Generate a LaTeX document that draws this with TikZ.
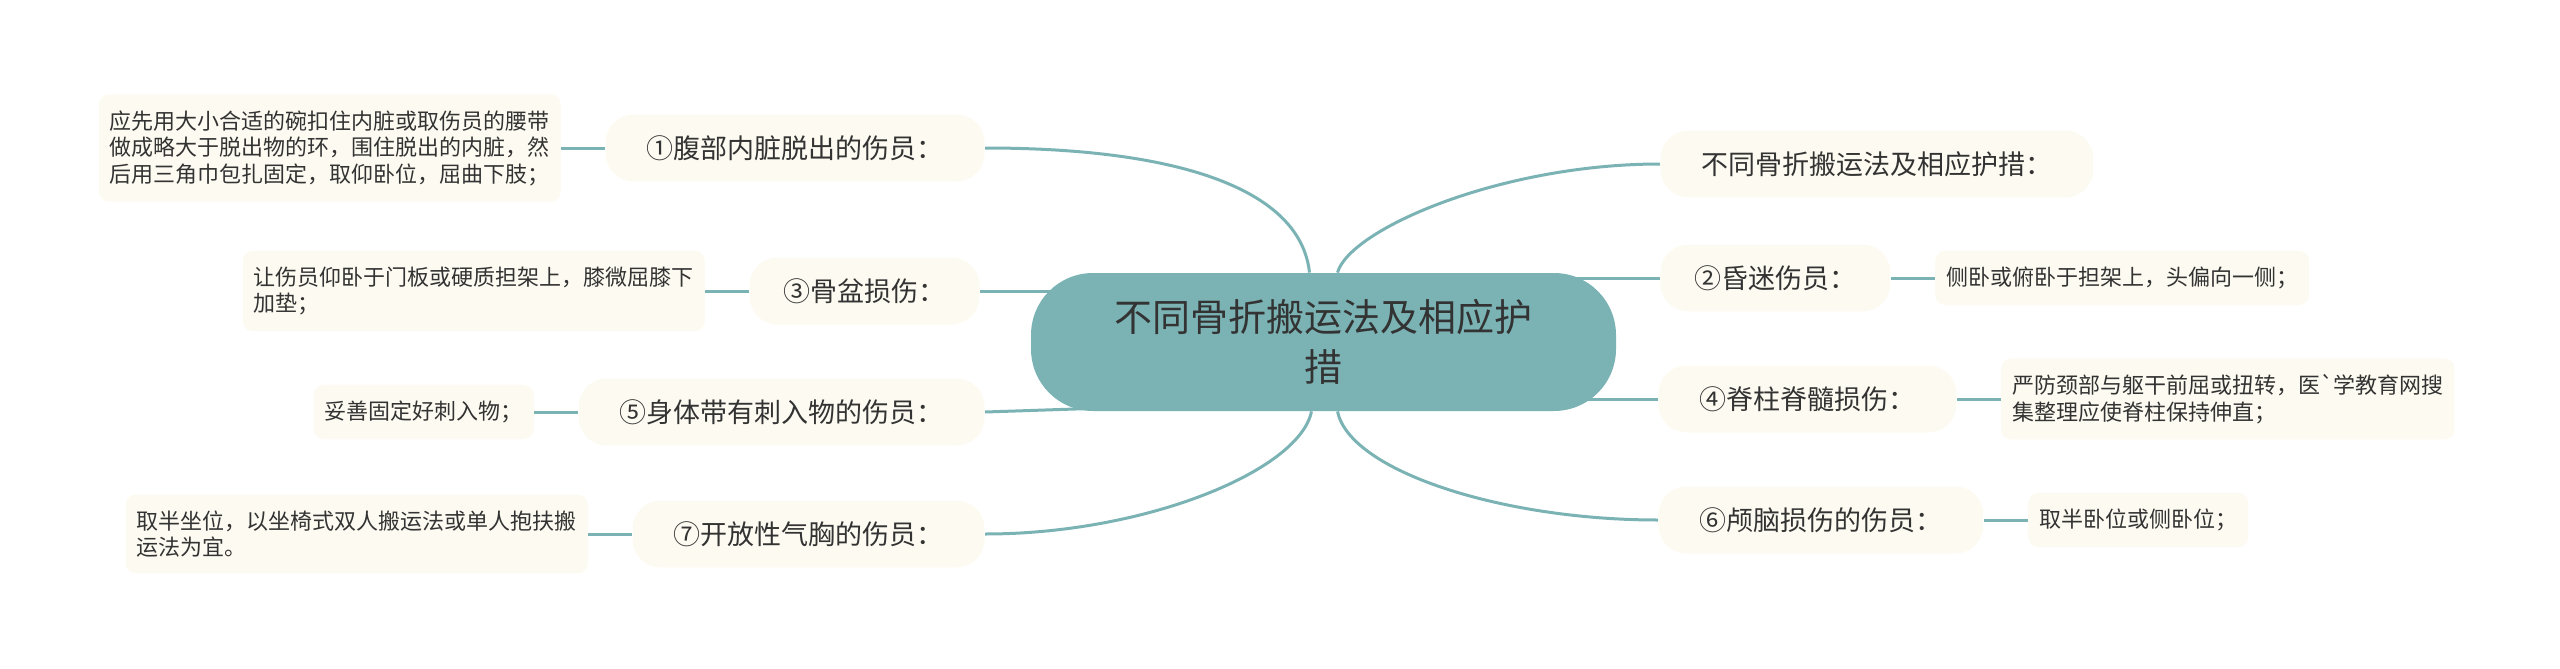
\documentclass[tikz,border=0pt]{standalone}
\usepackage{fontspec}
\newfontfamily\cjk{Noto Sans CJK SC}
\usepackage{xcolor}
\definecolor{tealline}{HTML}{7BB3B5}
\definecolor{cream}{HTML}{FDFBF1}
\definecolor{ink}{HTML}{333333}
\usetikzlibrary{positioning,backgrounds}

\begin{document}
\begin{tikzpicture}[x=0.5pt, y=-0.5pt, node distance=22pt,
	root/.style={fill=tealline, rounded corners=31pt, minimum width=292.5pt, minimum height=69pt, inner sep=0pt, align=center, text=ink, font=\cjk\fontsize{19}{25}\selectfont},
	branch/.style={fill=cream, rounded corners=14pt, minimum height=33.5pt, inner xsep=20.5pt, inner ysep=0pt, text=ink, font=\cjk\fontsize{13.5}{16}\selectfont},
	leaf/.style={fill=cream, rounded corners=5pt, minimum height=25pt, inner xsep=5.5pt, inner ysep=8pt, align=left, text=ink, font=\cjk\fontsize{11}{13.25}\selectfont},
	link/.style={draw=tealline, line width=1.5pt}]
				\useasboundingbox (0,0) rectangle (2560,669);

				\node[root]                 (ROOT)   at (1323.5,342) {不同骨折搬运法及相应护\\措};

				\node[branch, anchor=east]  (ABD)    at (985,148)  {①腹部内脏脱出的伤员：};
				\node[branch, anchor=east, inner xsep=17pt]  (PELVIS) at (980,291)  {③骨盆损伤：};
				\node[branch, anchor=east]  (STAB)   at (985,412)  {⑤身体带有刺入物的伤员：};
				\node[branch, anchor=east]  (CHEST)  at (985,534)  {⑦开放性气胸的伤员：};
				\node[branch, anchor=west]  (TITLE)  at (1660,164) {不同骨折搬运法及相应护措：};
				\node[branch, anchor=west, inner xsep=17pt]  (COMA)   at (1660,278) {②昏迷伤员：};
				\node[branch, anchor=west]  (SPINE)  at (1658,399) {④脊柱脊髓损伤：};
				\node[branch, anchor=west]  (HEAD)   at (1658,520) {⑥颅脑损伤的伤员：};

				\node[leaf] (ABDTIP)    [left=of ABD]    {应先用大小合适的碗扣住内脏或取伤员的腰带\\做成略大于脱出物的环，围住脱出的内脏，然\\后用三角巾包扎固定，取仰卧位，屈曲下肢；};
				\node[leaf] (PELVISTIP) [left=of PELVIS] {让伤员仰卧于门板或硬质担架上，膝微屈膝下\\加垫；};
				\node[leaf] (STABTIP)   [left=of STAB]   {妥善固定好刺入物；};
				\node[leaf] (CHESTTIP)  [left=of CHEST]  {取半坐位，以坐椅式双人搬运法或单人抱扶搬\\运法为宜。};
				\node[leaf] (COMATIP)   [right=of COMA]  {侧卧或俯卧于担架上，头偏向一侧；};
				\node[leaf] (SPINETIP)  [right=of SPINE] {严防颈部与躯干前屈或扭转，医`学教育网搜\\集整理应使脊柱保持伸直；};
				\node[leaf] (HEADTIP)   [right=of HEAD]  {取半卧位或侧卧位；};

				\begin{scope}[on background layer]
					% branches off the root
					\draw[link] ([xshift=-7pt]ROOT.north) .. controls +(-9,-83) and +(195,0) .. (ABD.east);
					\draw[link] ([xshift=7pt]ROOT.north) .. controls +(12,-43) and +(-160,0) .. (TITLE.west);
					\draw[link] ([xshift=-6pt]ROOT.south) .. controls +(-12,59) and +(161,0) .. (CHEST.east);
					\draw[link] ([xshift=7pt]ROOT.south) .. controls +(12,59) and +(-158,0) .. (HEAD.west);
					\draw[link] (PELVIS.east) -- (PELVIS.east -| ROOT.center);
					\draw[link] (STAB.east) -- ([xshift=-115pt,yshift=1.5pt]ROOT.south);
					\draw[link] (COMA.west) -- (COMA.west -| ROOT.center);
					\draw[link] (SPINE.west) -- (SPINE.west -| ROOT.center);

					% leaves
					\path	(ABDTIP.east)		edge[link]	(ABD.west)
							(PELVISTIP.east)	edge[link]	(PELVIS.west)
							(STABTIP.east)		edge[link]	(STAB.west)
							(CHESTTIP.east)		edge[link]	(CHEST.west)
							(COMA.east)			edge[link]	(COMATIP.west)
							(SPINE.east)		edge[link]	(SPINETIP.west)
							(HEAD.east)			edge[link]	(HEADTIP.west);
				\end{scope}
			\end{tikzpicture}
\end{document}
